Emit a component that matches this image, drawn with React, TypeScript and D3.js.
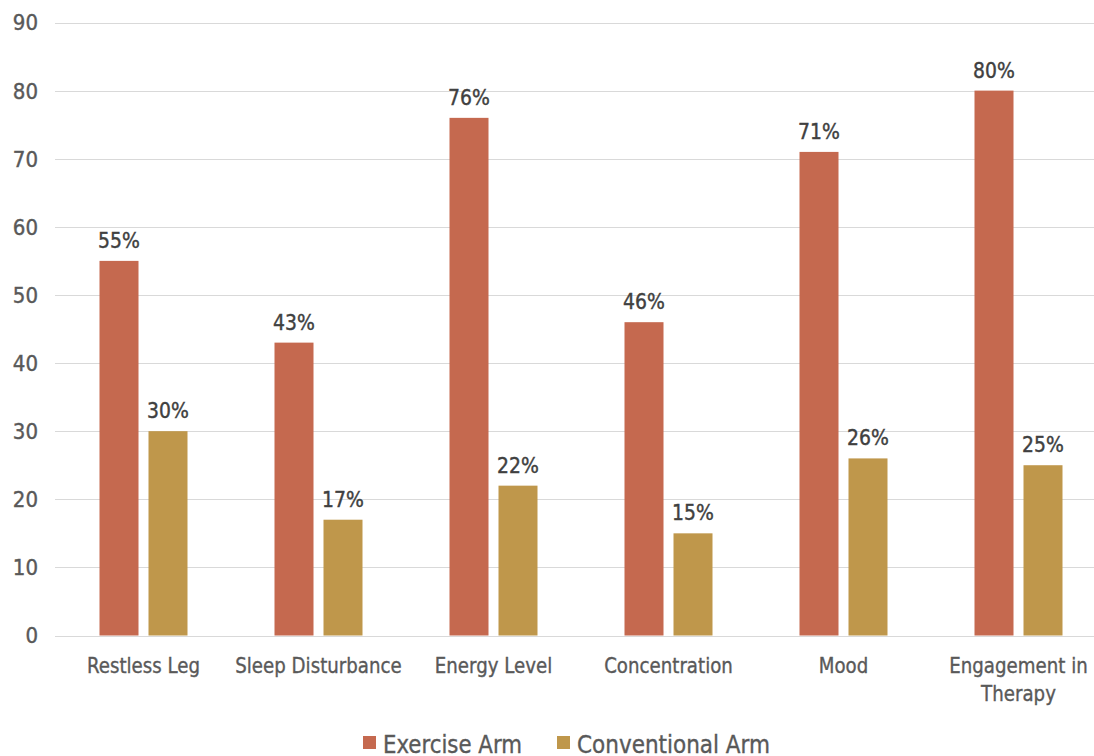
import React from "react";
import * as d3 from "d3";

const categories = ["Restless Leg", "Sleep Disturbance", "Energy Level", "Concentration", "Mood", "Engagement in Therapy"];
const categoryLines = [["Restless Leg"], ["Sleep Disturbance"], ["Energy Level"], ["Concentration"], ["Mood"], ["Engagement in", "Therapy"]];
const exerciseArm = [55, 43, 76, 46, 71, 80];
const conventionalArm = [30, 17, 22, 15, 26, 25];
const seriesNames = ["Exercise Arm", "Conventional Arm"];
const yTicks = [0, 10, 20, 30, 40, 50, 60, 70, 80, 90];

const colors = ["#C5694F", "#BF974B"];
const FONT = "'DejaVu Sans Condensed', 'DejaVu Sans', sans-serif";

export default function App() {
  const W = 1094, H = 756;
  const x = d3.scaleBand<string>().domain(categories).range([56, 56 + 175 * 6]).padding(0);
  const y = d3.scaleLinear().domain([0, 90]).range([635.5, 22.5]);
  const barW = 39;
  const gap = 10;
  const series = [exerciseArm, conventionalArm];
  return (
    <svg width={W} height={H} style={{ position: "absolute", left: 0, top: 0, background: "#fff" }} fontFamily={FONT}>
      {yTicks.map((t) => (
        <g key={t}>
          <line x1={55} x2={W} y1={Math.round(y(t)) + 0.5} y2={Math.round(y(t)) + 0.5} stroke="#D9D9D9" strokeWidth={1} />
          <text x={38} y={y(t)} dy="0.36em" textAnchor="end" fontSize={22} fill="#595959" stroke="#595959" strokeWidth={0.4}>{t}</text>
        </g>
      ))}
      {categories.map((c, i) => {
        const cx = x(c)! + x.bandwidth() / 2;
        return (
          <g key={c}>
            {series.map((s, j) => {
              const bx = j === 0 ? cx - gap / 2 - barW : cx + gap / 2;
              const v = s[i];
              return (
                <g key={j}>
                  <rect x={bx} y={y(v)} width={barW} height={y(0) - y(v)} fill={colors[j]} />
                  <text transform={`translate(${bx + barW / 2},${y(v) - 13}) scale(0.95,1)`} textAnchor="middle" fontSize={22} fill="#404040" stroke="#404040" strokeWidth={0.4}>{v}%</text>
                </g>
              );
            })}
            {categoryLines[i].map((ln, k) => (
              <text key={k} transform={`translate(${cx},${673 + k * 28}) scale(0.92,1)`} textAnchor="middle" fontSize={22} fill="#595959" stroke="#595959" strokeWidth={0.35}>{ln}</text>
            ))}
          </g>
        );
      })}
      {seriesNames.map((n, j) => {
        const lx = j === 0 ? 363 : 557;
        return (
          <g key={n}>
            <rect x={lx} y={736} width={13} height={13} fill={colors[j]} />
            <text x={lx + 20} y={753} fontSize={25} fill="#595959" stroke="#595959" strokeWidth={0.35} textLength={j === 0 ? 139 : 193} lengthAdjust="spacingAndGlyphs">{n}</text>
          </g>
        );
      })}
    </svg>
  );
}
